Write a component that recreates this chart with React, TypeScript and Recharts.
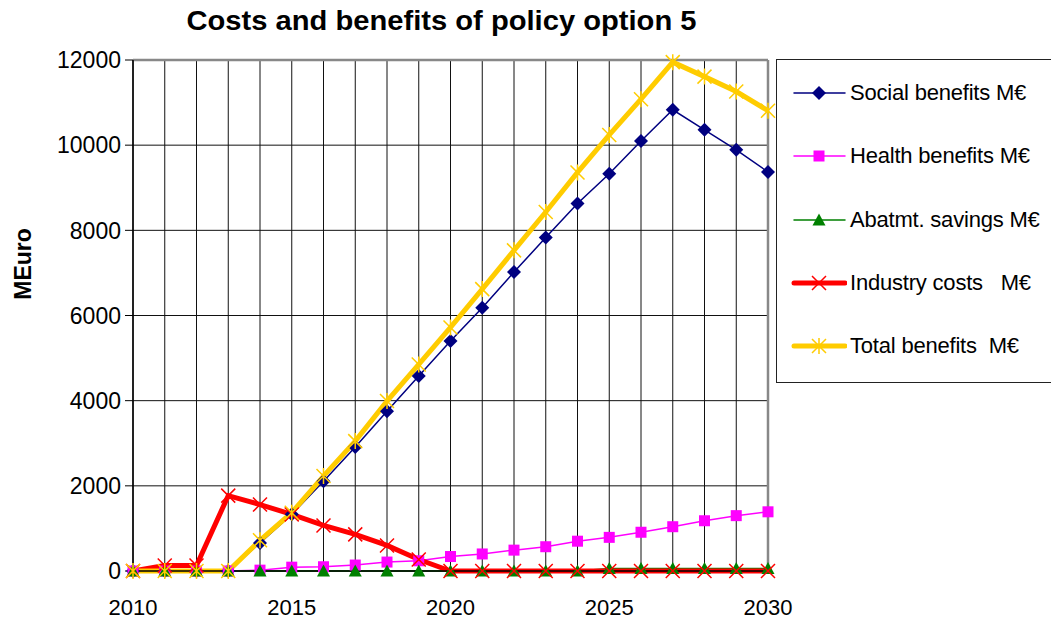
import { CartesianGrid, Line, LineChart, ReferenceLine, XAxis, YAxis } from 'recharts';

const years = [
  2010, 2011, 2012, 2013, 2014, 2015, 2016, 2017, 2018, 2019, 2020,
  2021, 2022, 2023, 2024, 2025, 2026, 2027, 2028, 2029, 2030,
];
const socialBenefits = [
  0, 0, 0, 0, 660, 1330, 2110, 2910, 3750, 4580, 5400,
  6180, 7020, 7830, 8630, 9330, 10100, 10830, 10360, 9890, 9370,
];
const healthBenefits = [
  0, 0, 0, 0, 20, 90, 100, 140, 210, 240, 340,
  400, 490, 570, 700, 790, 910, 1040, 1180, 1300, 1390,
];
const abatementSavings = [
  0, 0, 0, 0, 0, 0, 0, 0, 0, 0, 0,
  0, 0, 0, 0, 60, 60, 60, 60, 60, 60,
];
const industryCosts = [
  0, 130, 130, 1770, 1560, 1330, 1070, 860, 600, 270, 0,
  0, 0, 0, 0, 0, 0, 0, 0, 0, 0,
];
const totalBenefits = [
  0, 0, 0, 0, 720, 1370, 2230, 3050, 3990, 4850, 5720,
  6620, 7530, 8430, 9360, 10240, 11080, 11950, 11610, 11260, 10810,
];
const yTicks = [0, 2000, 4000, 6000, 8000, 10000, 12000];
const xLabels = [2010, 2015, 2020, 2025, 2030];

const data = years.map((year, i) => ({
  year,
  social: socialBenefits[i],
  health: healthBenefits[i],
  abatement: abatementSavings[i],
  industry: industryCosts[i],
  total: totalBenefits[i],
}));

const FONT = '"Liberation Sans", Arial, sans-serif';
const NAVY = '#000080';
const MAGENTA = '#ff00ff';
const GREEN = '#008000';
const RED = '#ff0000';
const GOLD = '#ffcc00';

type MarkProps = { cx: number; cy: number };

const Diamond = ({ cx, cy }: MarkProps) => (
  <path d={`M${cx},${cy - 7}L${cx + 7},${cy}L${cx},${cy + 7}L${cx - 7},${cy}Z`} fill={NAVY} />
);
const Square = ({ cx, cy }: MarkProps) => (
  <rect x={cx - 5.5} y={cy - 5.5} width={11} height={11} fill={MAGENTA} />
);
const Triangle = ({ cx, cy }: MarkProps) => (
  <path d={`M${cx},${cy - 6.5}L${cx + 6.5},${cy + 5.5}L${cx - 6.5},${cy + 5.5}Z`} fill={GREEN} />
);
const Cross = ({ cx, cy }: MarkProps) => (
  <path
    d={`M${cx - 7},${cy - 7}L${cx + 7},${cy + 7}M${cx - 7},${cy + 7}L${cx + 7},${cy - 7}`}
    stroke={RED}
    strokeWidth={1.5}
    fill="none"
  />
);
const Star = ({ cx, cy }: MarkProps) => (
  <path
    d={`M${cx - 7},${cy - 7}L${cx + 7},${cy + 7}M${cx - 7},${cy + 7}L${cx + 7},${cy - 7}M${cx},${cy - 8}L${cx},${cy + 8}`}
    stroke={GOLD}
    strokeWidth={1.5}
    fill="none"
  />
);

const dotWith =
  (Mark: (p: MarkProps) => React.ReactElement, name: string) =>
  (props: any) =>
    props.cx == null ? null : (
      <g key={`${name}-${props.index}`}>
        <Mark cx={props.cx} cy={props.cy} />
      </g>
    );

const legendItems = [
  { label: 'Social benefits M€', color: NAVY, width: 1.5, Mark: Diamond },
  { label: 'Health benefits M€', color: MAGENTA, width: 1.5, Mark: Square },
  { label: 'Abatmt. savings M€', color: GREEN, width: 1.5, Mark: Triangle },
  { label: 'Industry costs   M€', color: RED, width: 5, Mark: Cross },
  { label: 'Total benefits  M€', color: GOLD, width: 5, Mark: Star },
];

function YTick({ x, y, payload }: any) {
  return (
    <text x={x - 2} y={y} dy="0.36em" textAnchor="end" fontSize={23} fontFamily={FONT} fill="#000">
      {payload.value}
    </text>
  );
}

function XTick({ x, y, payload }: any) {
  if (!xLabels.includes(payload.value)) return null;
  return (
    <text x={x} y={y + 36} textAnchor="middle" fontSize={22} fontFamily={FONT} fill="#000">
      {payload.value}
    </text>
  );
}

function ChartLegend() {
  return (
    <div
      style={{
        position: 'absolute',
        left: 776,
        top: 59,
        width: 290,
        height: 322,
        border: '1.5px solid #222',
        background: '#fff',
        fontFamily: FONT,
        fontSize: 22,
      }}
    >
      {legendItems.map((item, i) => (
        <div
          key={item.label}
          style={{ position: 'absolute', left: 0, top: 33 + i * 63.3 - 15, height: 30, display: 'flex', alignItems: 'center' }}
        >
          <svg width={70} height={30}>
            <line x1={17} x2={68} y1={15} y2={15} stroke={item.color} strokeWidth={item.width} strokeLinecap="round" />
            <item.Mark cx={42} cy={15} />
          </svg>
          <span style={{ whiteSpace: 'pre', marginLeft: 3, letterSpacing: -0.2 }}>{item.label}</span>
        </div>
      ))}
    </div>
  );
}

export default function App() {
  return (
    <div style={{ position: 'absolute', left: 0, top: 0, width: 1051, height: 619, background: '#fff', overflow: 'hidden' }}>
      <LineChart width={1051} height={619} data={data} margin={{ top: 60, right: 283, bottom: 0, left: 0 }}>
        <CartesianGrid stroke="#111" strokeWidth={1} />
        <XAxis
          dataKey="year"
          type="number"
          domain={[2010, 2030]}
          ticks={years}
          interval={0}
          height={48}
          tickLine={false}
          axisLine={{ stroke: '#000', strokeWidth: 1.5 }}
          tick={<XTick />}
        />
        <YAxis
          domain={[0, 12000]}
          ticks={yTicks}
          width={133}
          tickSize={8}
          tickLine={{ stroke: '#000' }}
          axisLine={{ stroke: '#000', strokeWidth: 1.5 }}
          tick={<YTick />}
        />
        <ReferenceLine y={12000} stroke="#888" strokeWidth={2.5} />
        <ReferenceLine x={2030} stroke="#888" strokeWidth={2.5} />
        <Line dataKey="social" type="linear" stroke={NAVY} strokeWidth={1.5} dot={dotWith(Diamond, 'social')} isAnimationActive={false} />
        <Line dataKey="health" type="linear" stroke={MAGENTA} strokeWidth={1.5} dot={dotWith(Square, 'health')} isAnimationActive={false} />
        <Line dataKey="abatement" type="linear" stroke={GREEN} strokeWidth={1.5} dot={dotWith(Triangle, 'abatement')} isAnimationActive={false} />
        <Line dataKey="industry" type="linear" stroke={RED} strokeWidth={5} dot={dotWith(Cross, 'industry')} isAnimationActive={false} />
        <Line dataKey="total" type="linear" stroke={GOLD} strokeWidth={5} dot={dotWith(Star, 'total')} isAnimationActive={false} />
      </LineChart>
      <svg width={1051} height={619} style={{ position: 'absolute', left: 0, top: 0, pointerEvents: 'none' }}>
        <text
          x={441.5}
          y={30}
          textAnchor="middle"
          fontFamily={FONT}
          fontWeight="bold"
          fontSize={27}
          textLength={510}
          lengthAdjust="spacingAndGlyphs"
        >
          Costs and benefits of policy option 5
        </text>
        <text
          transform="translate(31,264) rotate(-90)"
          textAnchor="middle"
          fontFamily={FONT}
          fontWeight="bold"
          fontSize={23}
        >
          MEuro
        </text>
      </svg>
      <ChartLegend />
    </div>
  );
}
